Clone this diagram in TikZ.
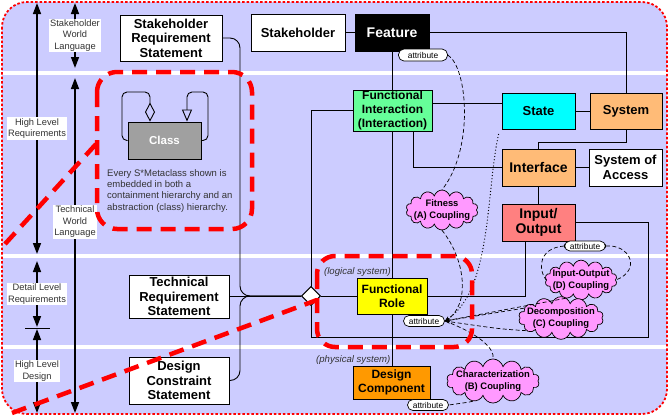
\documentclass[tikz,border=0pt]{standalone}
\usepackage{fontspec}
\setmainfont{Liberation Sans}
\usetikzlibrary{arrows.meta,shapes.geometric,shapes.symbols}

\definecolor{bgblue}{HTML}{CCCCFF}
\definecolor{fgreen}{HTML}{66FF99}
\definecolor{fcyan}{HTML}{00FFFF}
\definecolor{fpeach}{HTML}{FFBB77}
\definecolor{fsalmon}{HTML}{FF8080}
\definecolor{fyellow}{HTML}{FFFF00}
\definecolor{forange}{HTML}{FF9900}
\definecolor{fgray}{HTML}{A0A0A0}
\definecolor{fpink}{HTML}{FF99FF}
\definecolor{inkgray}{HTML}{333333}

\tikzset{
  box/.style={draw, line width=0.9pt, align=center, inner sep=0pt,
    font=\fontsize{13}{14.5}\selectfont\bfseries},
  bigtxt/.style={font=\fontsize{14}{15.5}\selectfont\bfseries},
  midtxt/.style={font=\fontsize{12}{14}\selectfont\bfseries},
  axis/.style={line width=1.5pt,
    {Triangle[length=11pt,width=8pt]}-{Triangle[length=11pt,width=8pt]}},
  axlabel/.style={fill=white, inner sep=1pt, align=center, text=inkgray,
    font=\fontsize{9.3}{11.5}\selectfont},
  attr/.style={draw, fill=white, rounded corners=5.5pt, line width=0.7pt,
    minimum width=41pt, minimum height=11pt, inner sep=0pt,
    font=\fontsize{8.4}{9}\selectfont},
  coupling/.style={cloud, cloud puffs=14, cloud ignores aspect, draw,
    line width=0.7pt, fill=fpink, align=center, inner xsep=-5pt, inner ysep=0pt,
    font=\fontsize{9.4}{12}\selectfont\bfseries},
  link/.style={line width=0.9pt},
  rel/.style={line width=0.7pt, dash pattern=on 4pt off 2.5pt},
  reldot/.style={line width=1.3pt, line cap=round, dash pattern=on 0pt off 3.2pt},
  tipin/.style={-{Stealth[length=5pt,width=4pt]}},
  redmark/.style={red, line width=4.5pt, dash pattern=on 15pt off 9pt},
}

\begin{document}
\begin{tikzpicture}[x=1pt,y=-1pt]
  \useasboundingbox (0,0) rectangle (669,416);

  % background and strips
  \fill[bgblue, rounded corners=25pt] (2,2) rectangle (667,414);
  \foreach \ya/\yb in {71/75, 253.5/258, 345/349.3}
    \fill[white] (0,\ya) rectangle (669,\yb);
  \draw[red, line width=1.8pt, dash pattern=on 2.5pt off 2pt, rounded corners=25pt]
    (2,2) rectangle (667,414);

  % levels on the left
  \draw[axis] (37,3) -- (37,254) node[axlabel, pos=0.5] (hlr) {High Level\\Requirements};
  \draw[axis] (75,3) -- (75,68) node[axlabel, pos=0.5] (swl) {Stakeholder\\World\\Language};
  \draw[axis] (75,78) -- (75,413) node[axlabel, pos=0.43] (twl) {Technical\\World\\Language};
  \draw[axis] (37,261) -- (37,327) node[axlabel, pos=0.5] (dlr) {Detail Level\\Requirements};
  \draw[axis] (37,329) -- (37,413) node[axlabel, pos=0.5] (hld) {High Level\\Design};
  \draw[line width=1pt] (25,328) -- (50,328);

  % statement boxes
  \node[box, fill=white, minimum width=102pt, minimum height=46pt] (srs) at (171,38)
    {Stakeholder\\Requirement\\Statement};
  \node[box, fill=white, minimum width=100pt, minimum height=43pt] (trs) at (179,296.5)
    {Technical\\Requirement\\Statement};
  \node[box, fill=white, minimum width=100pt, minimum height=47pt] (dcs) at (179,380.5)
    {Design\\Constraint\\Statement};

  % metaclass boxes
  \node[box, fill=white, minimum width=94pt, minimum height=37pt] (stk) at (298,32.5) {Stakeholder};
  \node[box, bigtxt, fill=black, text=white, minimum width=74pt, minimum height=37pt] (feat) at (392,32.5) {Feature};
  \node[box, midtxt, fill=fgreen, minimum width=79pt, minimum height=41pt] (fi) at (392.5,110.5)
    {Functional\\Interaction\\(Interaction)};
  \node[box, fill=fcyan, minimum width=73pt, minimum height=36pt] (state) at (538.5,111) {State};
  \node[box, fill=fpeach, minimum width=72pt, minimum height=36pt] (sys) at (626,111) {System};
  \node[box, bigtxt, fill=fpeach, minimum width=73pt, minimum height=37pt] (intf) at (538.5,167.5) {Interface};
  \node[box, fill=white, minimum width=73pt, minimum height=37pt] (soa) at (625.5,167.5) {System of\\Access};
  \node[box, bigtxt, fill=fsalmon, minimum width=73pt, minimum height=37pt] (io) at (538.5,222.5) {Input/\\Output};
  \node[box, midtxt, fill=fyellow, minimum width=70pt, minimum height=36pt] (fr) at (392,296) {Functional\\Role};
  \node[box, midtxt, fill=forange, minimum width=77pt, minimum height=33pt] (dc) at (391.5,382.5) {Design\\Component};
  \node[diamond, draw, fill=white, line width=0.9pt, minimum size=19pt, inner sep=0pt] (agg) at (311,296) {};
  \coordinate (frdc) at (392,337);

  % connectors
  \draw[link] (stk) -- (feat);
  \draw[link] (feat.east) -| (sys.north);
  \draw[link] (feat.south) -- (feat.south |- fi.north);
  \draw[link] (fi.east |- 0,103) -- (state.west |- 0,103);
  \draw[link] (state) -- (sys);
  \draw[link] (sys.south) -- ++(0,13) -| (intf.north);
  \draw[link] ([xshift=20.5pt]fi.south) |- (intf.west);
  \draw[link] (intf) -- (soa);
  \draw[link] (intf) -- (io);
  \draw[link] (fr.north |- fi.south) -- (fr.north);
  \draw[link] (fr.south) -- (fr.south |- dc.north);
  \draw[link] (fr.east) -| ([xshift=-13.5pt]io.south);
  \draw[link] (io.east) -| (648,337) -- (frdc);
  \draw[link] (fi.west) -| (311,337) -- (frdc);
  \draw[link, rounded corners=10pt] (srs.east) -| (240,296) -- (agg.west);
  \draw[link] (trs.east |- agg.west) -- (agg.west);
  \draw[link, rounded corners=10pt] (dcs.east) -| (240,296) -- (agg.west);
  \node[diamond, draw, fill=white, line width=0.9pt, minimum size=19pt, inner sep=0pt] at (agg) {};
  \draw[link] (agg.east) -- (fr.west);

  \node[anchor=south east, inner sep=1pt, text=inkgray, font=\fontsize{9.6}{11}\selectfont\itshape]
    (logic) at (fr.north) {(logical system)};
  \node[anchor=south east, inner sep=1pt, text=inkgray, font=\fontsize{9.6}{11}\selectfont\itshape]
    (phys) at (dc.north) {(physical system)};

  % class with its two hierarchies
  \node[box, fill=fgray, text=white, font=\fontsize{11.5}{13}\selectfont\bfseries,
    minimum width=73pt, minimum height=37pt] (cls) at (164.5,140.5) {Class};
  \draw[link, rounded corners=5pt, -{Diamond[open,length=19pt,width=10pt]}]
    (cls.west) -| (122,92) -| ([xshift=-14.5pt]cls.north);
  \draw[link, rounded corners=5pt, -{Triangle[open,length=12pt,width=10pt]}]
    (cls.east) -| (208,92) -| ([xshift=22.5pt]cls.north);
  \node[anchor=north west, align=left, inner sep=0pt, text=inkgray,
    font=\fontsize{9.5}{11.4}\selectfont] (note) at (107,169)
    {Every S*Metaclass shown is\\embedded in both a\\containment hierarchy and an\\abstraction (class) hierarchy.};

  % attributes
  \node[attr, minimum width=49pt, minimum height=12pt] (atfeat) at (423,55) {attribute};
  \node[attr, minimum height=10pt] (atio) at (585,246) {attribute};
  \node[attr] (atfr) at (424,321) {attribute};
  \node[attr] (atdc) at (428,405) {attribute};

  % couplings
  \node[coupling, minimum width=72pt, minimum height=33pt] (cpa) at (442,210) {Fitness\\(A) Coupling};
  \node[coupling, minimum width=72pt, minimum height=29pt] (cpd) at (581,280) {Input-Output\\(D) Coupling};
  \node[coupling, minimum width=80pt, minimum height=34pt] (cpc) at (561,318) {Decomposition\\(C) Coupling};
  \node[coupling, minimum width=89pt, minimum height=34pt] (cpb) at (493,381) {Characterization\\(B) Coupling};

  \draw[rel] (atfeat.east) .. controls (468,68) and (474,150) .. (cpa.north);
  \draw[rel, tipin] (cpa.south) .. controls (466,260) and (470,305) .. (atfr.east);
  \draw[reldot, tipin] ([xshift=-3pt,yshift=-5pt]state.south west) .. controls (486,190) and (492,290) .. (atfr.east);
  \draw[rel] (atio.west) .. controls (538,248) and (538,270) .. (cpd.west);
  \draw[rel] (atio.east) .. controls (630,244) and (642,270) .. (cpd.east);
  \draw[rel, tipin] (cpd.230) -- (atfr.east);
  \draw[rel, tipin] (cpc.165) -- (atfr.east);
  \draw[rel, tipin] (cpc.200) .. controls (500,329) .. (atfr.east);
  \draw[rel] (atfr.east) .. controls (482,335) and (495,350) .. (cpb.north);
  \draw[rel] (cpb.225) .. controls (470,402) .. (atdc.east);

  % red marks
  \draw[redmark, rounded corners=20pt] (97,72) rectangle (252,229);
  \draw[redmark] (5,244) -- (97,143);
  \draw[redmark, rounded corners=18pt] (317,256) rectangle (472,347);
  \draw[redmark] (12,413) -- (317,300);
\end{tikzpicture}
\end{document}
